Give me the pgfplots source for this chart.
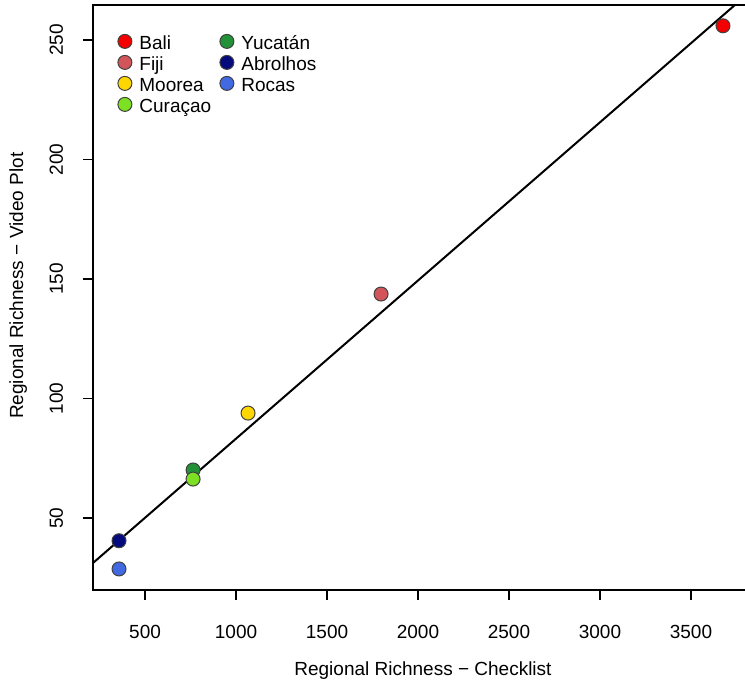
\documentclass[border=0pt]{standalone}
\usepackage{fontspec}
\setmainfont{Liberation Sans}
\usepackage{pgfplots}
\pgfplotsset{compat=1.18}
\definecolor{cBali}{RGB}{245,0,0}
\definecolor{cFiji}{RGB}{210,85,90}
\definecolor{cMoorea}{RGB}{255,215,0}
\definecolor{cCuracao}{RGB}{125,225,35}
\definecolor{cYucatan}{RGB}{35,145,55}
\definecolor{cAbrolhos}{RGB}{5,10,125}
\definecolor{cRocas}{RGB}{65,105,225}
\pgfplotsset{pt/.style={only marks, mark=*, mark size=3.5pt, draw=black!75, line width=0.5pt, fill=#1}}
\begin{document}
\begin{tikzpicture}
\begin{axis}[
  name=ax,
  scale only axis,
  width=328pt, height=292.5pt,
  xmin=214, xmax=3819, ymin=19.9, ymax=264.6,
  xtick={500,1000,1500,2000,2500,3000,3500},
  ytick={50,100,150,200,250},
  tick align=outside, xtick pos=bottom, ytick pos=left,
  major tick length=5pt,
  axis line style={line width=0.7pt},
  every tick/.style={black, line width=0.7pt},
  /pgf/number format/assume math mode=true,
  /pgf/number format/1000 sep={},
  font=\fontsize{9.5}{11}\selectfont,
  ticklabel style={font=\fontsize{9.5}{11}\selectfont},
  xticklabel shift=9pt,
  yticklabel style={rotate=90, anchor=base},
  yticklabel shift=10pt,
  xlabel={Regional Richness − Checklist},
  ylabel={Regional Richness − Video Plot},
  xlabel style={at={(axis description cs:0.503,-0.137)}, anchor=center},
  ylabel style={at={(axis description cs:-0.114,0.52)}, anchor=center},
  legend columns=2,
  legend style={at={(rel axis cs:0,1)}, anchor=north west, xshift=8.5pt, yshift=-11.9pt,
    draw=none, fill=none, font=\fontsize{9.5}{11}\selectfont, row sep=0pt,
    nodes={inner sep=1pt, text height=7pt, text depth=1.5pt}},
  legend cell align=left,
  legend image code/.code={\path (0pt,1.15pt) (10pt,1.15pt);\draw[mark repeat=2,mark phase=2,#1] plot coordinates {(0pt,1.15pt)(4pt,1.15pt)(10pt,1.15pt)};},
]
\addplot[pt=cBali] coordinates {(3676,255.9)};
\addlegendentry{\makebox[38.5pt][l]{Bali}}
\addplot[pt=cYucatan] coordinates {(764,70.1)};
\addlegendentry{Yucatán}
\addplot[pt=cFiji] coordinates {(1797,143.7)};
\addlegendentry{\makebox[38.5pt][l]{Fiji}}
\addplot[pt=cAbrolhos] coordinates {(357,40.5)};
\addlegendentry{Abrolhos}
\addplot[pt=cMoorea] coordinates {(1066,93.9)};
\addlegendentry{\makebox[38.5pt][l]{Moorea}}
\addplot[pt=cRocas] coordinates {(357,28.7)};
\addlegendentry{Rocas}
\addplot[pt=cCuracao] coordinates {(764,66.3)};
\addlegendentry{\makebox[38.5pt][l]{Curaçao}}
\addplot[sharp plot, no marks, black, line width=1pt, forget plot] coordinates {(200,30.27) (3850,271.76)};
\end{axis}
\pgfresetboundingbox
\path ([xshift=-46.5pt,yshift=-47.5pt]ax.south west) rectangle ([xshift=-2pt,yshift=2.5pt]ax.north east);
\end{tikzpicture}
\end{document}
